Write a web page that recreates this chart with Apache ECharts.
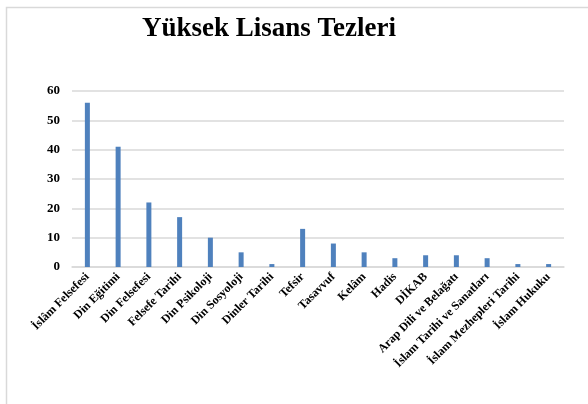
<!DOCTYPE html>
<html>
<head>
    <meta charset="utf-8">
    <title>Yüksek Lisans Tezleri</title>
    <script src="https://cdn.jsdelivr.net/npm/echarts@6/dist/echarts.min.js"></script>
    <style type="text/css">
        html, body { margin: 0; padding: 0; background: #fff; }
        #main { width: 588px; height: 404px; }
    </style>
</head>
<body>
    <div id="main"></div>
    <script type="text/javascript">
        var categories = ['İslâm Felsefesi', 'Din Eğitimi', 'Din Felsefesi', 'Felsefe Tarihi', 'Din Psikoloji',
            'Din Sosyoloji', 'Dinler Tarihi', 'Tefsir', 'Tasavvuf', 'Kelâm', 'Hadis', 'DİKAB',
            'Arap Dili ve Belağatı', 'İslam Tarihi ve Sanatları', 'İslam Mezhepleri Tarihi', 'İslam Hukuku'];
        var counts = [56, 41, 22, 17, 10, 5, 1, 13, 8, 5, 3, 4, 4, 3, 1, 1];
        var yTicks = [0, 10, 20, 30, 40, 50, 60];

        var font = '"Liberation Serif", "Times New Roman", serif';
        var chart = echarts.init(document.getElementById('main'));

        var option = {
            animation: false,
            title: {
                text: 'Yüksek Lisans Tezleri',
                left: 264,
                top: 11,
                textAlign: 'center',
                textStyle: { fontFamily: font, fontSize: 27, fontWeight: 'bold', color: '#000' }
            },
            graphic: [
                {
                    type: 'rect',
                    shape: { x: 6.5, y: 7.5, width: 700, height: 600 },
                    style: { fill: 'none', stroke: '#d9d9d9', lineWidth: 1.5 }
                }
            ],
            grid: { left: 72, right: 24, top: 91, bottom: 137 },
            xAxis: {
                type: 'category',
                data: categories,
                axisTick: { show: false },
                axisLine: { lineStyle: { color: '#d9d9d9', width: 1.5 } },
                axisLabel: {
                    interval: 0,
                    rotate: 45,
                    margin: 8,
                    fontFamily: font,
                    fontSize: 12,
                    fontWeight: 'bold',
                    color: '#000'
                }
            },
            yAxis: {
                type: 'value',
                min: yTicks[0],
                max: yTicks[yTicks.length - 1],
                interval: 10,
                axisLine: { show: false },
                axisTick: { show: false },
                splitLine: { lineStyle: { color: '#d9d9d9', width: 1.5 } },
                axisLabel: {
                    margin: 12,
                    fontFamily: font,
                    fontSize: 13,
                    fontWeight: 'bold',
                    color: '#000'
                }
            },
            series: [
                {
                    type: 'bar',
                    data: counts,
                    barWidth: 5,
                    itemStyle: { color: '#4f81bd' }
                }
            ]
        };
        chart.setOption(option);
    </script>
</body>
</html>
